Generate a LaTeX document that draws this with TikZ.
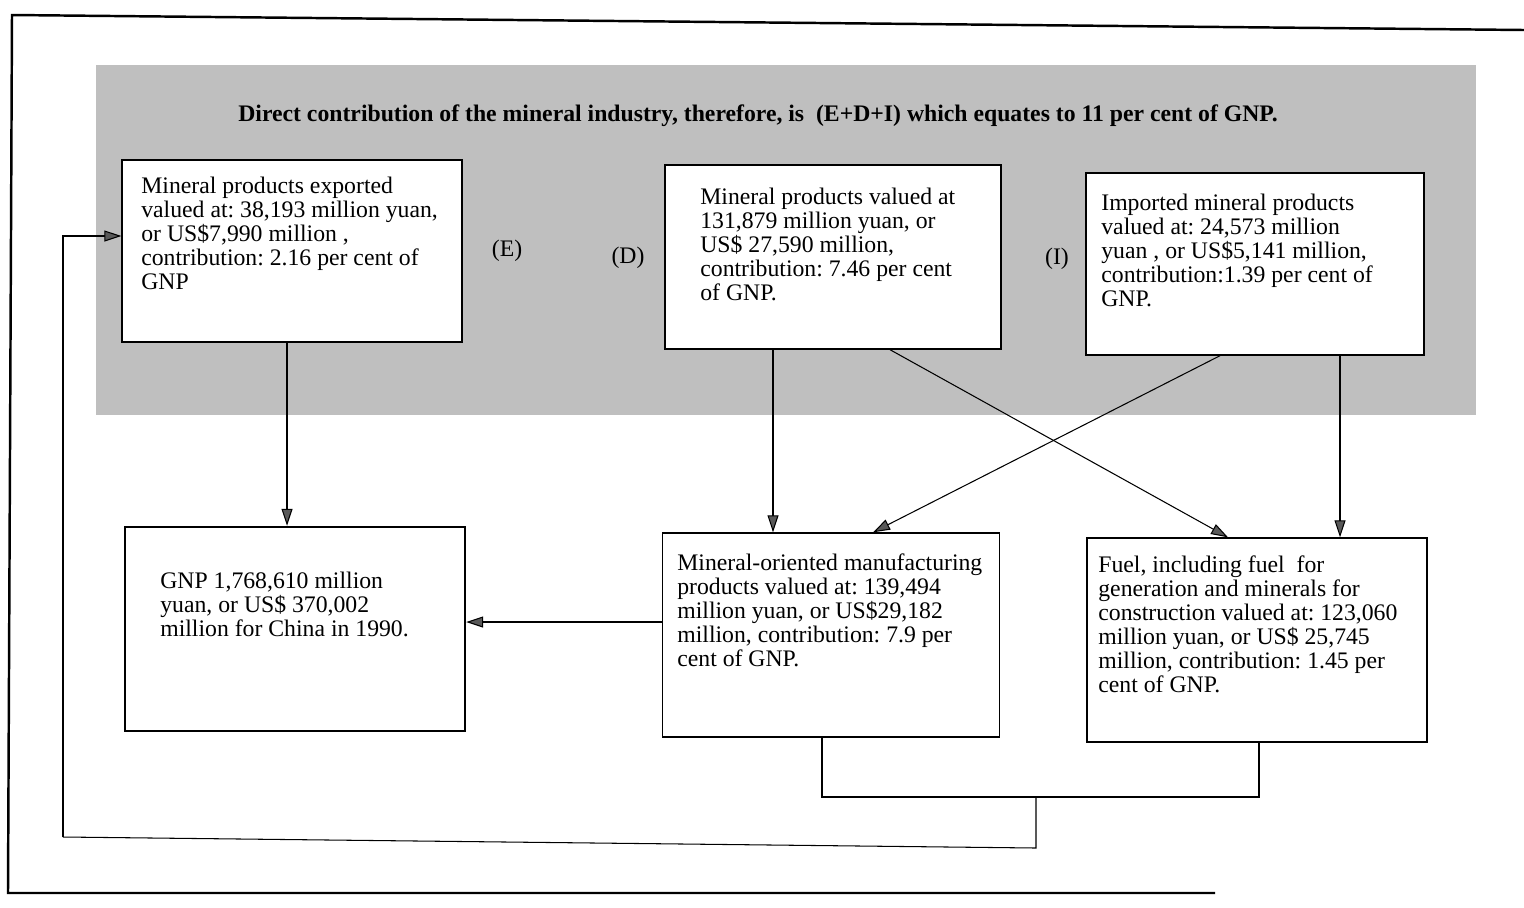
\documentclass[tikz,border=0pt]{standalone}
\usepackage{fontspec}
\setmainfont{Liberation Serif}
\frenchspacing
\usetikzlibrary{arrows.meta,calc}
\begin{document}
\begin{tikzpicture}[x=0.02cm,y=-0.02cm,
  box/.style={draw,line width=0.8pt,inner sep=0,fill=white},
  txt/.style={anchor=base west,align=left,inner sep=0,font=\fontsize{13.5}{13.66}\selectfont},
  lbl/.style={font=\fontsize{13.5}{14}\selectfont,inner sep=0},
  conn/.style={line width=0.6pt},
  arr/.style={conn,-{Triangle[length=0.34cm,width=0.22cm,fill=black!65]}}]
\useasboundingbox (0,0) rectangle (1524,907);
% outer frame
\draw[line width=1.4pt] (1524,30) -- (12,15) -- (8,893) -- (1215,893);
% shaded band
\fill[black!25] (96,65) rectangle (1476,415);
\node[font=\bfseries\fontsize{13.5}{14}\selectfont,anchor=base,inner sep=0] (title) at (758,121)
  {Direct contribution of the mineral industry, therefore, is\ \ (E+D+I) which equates to 11 per cent of GNP.};
% boxes
\node[box,minimum width=6.8cm,minimum height=3.64cm] (E) at (292,251) {};
\node[box,minimum width=6.72cm,minimum height=3.68cm] (D) at (833,257) {};
\node[box,minimum width=6.76cm,minimum height=3.64cm] (I) at (1255,264) {};
\node[box,line width=1.4pt,minimum width=6.8cm,minimum height=4.08cm] (G) at (295,629) {};
\node[box,minimum width=6.74cm,minimum height=4.08cm] (M) at (831,635) {};
\node[box,minimum width=6.8cm,minimum height=4.08cm] (F) at (1257,640) {};
% texts (anchored at the baseline of their last line)
\node[txt] (Et) at (141,289) {Mineral products exported\\valued at: 38,193 million yuan,\\or US\$7,990 million ,\\contribution: 2.16 per cent of\\GNP};
\node[txt] (Dt) at (700,300) {Mineral products valued at\\131,879 million yuan, or\\US\$ 27,590 million,\\contribution: 7.46 per cent\\of GNP.};
\node[txt] (It) at (1101,306) {Imported mineral products\\valued at: 24,573 million\\yuan , or US\$5,141 million,\\contribution:1.39 per cent of\\GNP.};
\node[txt] (Gt) at (160,636) {GNP 1,768,610 million\\yuan, or US\$ 370,002\\million for China in 1990.};
\node[txt] (Mt) at (677,666) {Mineral-oriented manufacturing\\products valued at: 139,494\\million yuan, or US\$29,182\\million, contribution: 7.9 per\\cent of GNP.};
\node[txt] (Ft) at (1098,692) {Fuel, including fuel\ \ for\\generation and minerals for\\construction valued at: 123,060\\million yuan, or US\$ 25,745\\million, contribution: 1.45 per\\cent of GNP.};
% labels
\node[lbl] (lE) at (507,251) {(E)};
\node[lbl] (lD) at (628,258) {(D)};
\node[lbl] (lI) at (1057,259) {(I)};
% connectors
\coordinate (e1) at (287,0);
\coordinate (d1) at (773,0);
\coordinate (d2) at (890,0);
\coordinate (i1) at (1220,0);
\coordinate (i2) at (1340,0);
\coordinate (m1) at (873,0);
\coordinate (f1) at (1228,0);
\coordinate (mb) at (822,0);
\coordinate (fb) at (1259,0);
\coordinate (j1) at (1036,797);
\coordinate (j2) at (1036,848);
\coordinate (c1) at (63,837);
\draw[arr] (E.south -| e1) -- (G.north -| e1);
\draw[arr] (D.south -| d1) -- (M.north -| d1);
\draw[arr] (D.south -| d2) -- (F.north -| f1);
\draw[arr] (I.south -| i1) -- (M.north -| m1);
\draw[arr] (I.south -| i2) -- (F.north -| i2);
\draw[arr] (M.west |- 0,622) -- (G.east |- 0,622);
\draw[conn] (M.south -| mb) -- (mb |- j1) -- (fb |- j1) -- (F.south -| fb);
\draw[conn] (j1) -- (j2) -- (c1);
\draw[arr] (c1) -- (c1 |- 0,236) -- (E.west |- 0,236);
\end{tikzpicture}
\end{document}
